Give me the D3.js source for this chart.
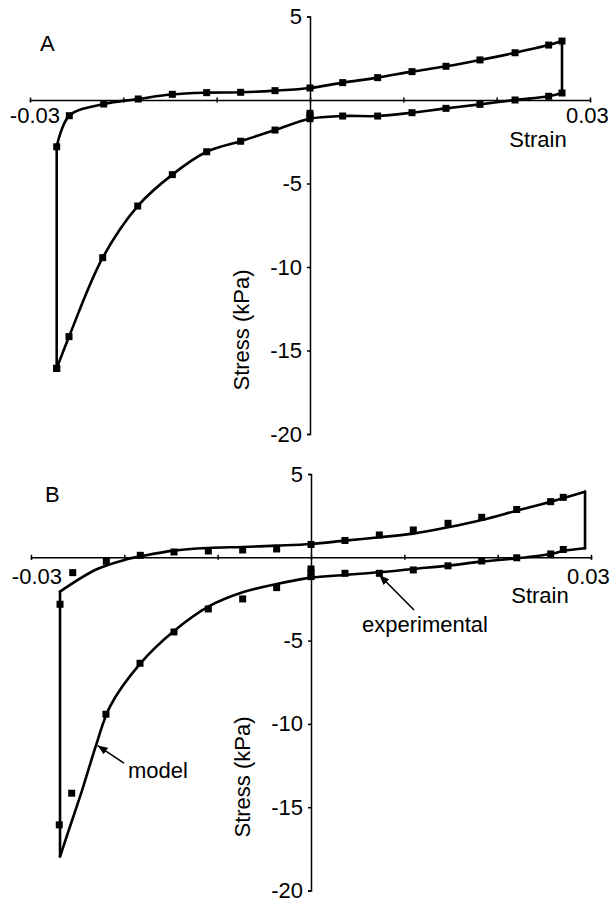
<!DOCTYPE html>
<html>
<head>
<meta charset="utf-8">
<script src="https://cdn.jsdelivr.net/npm/d3@7"></script>
<style>
  body { margin: 0; background: #fff; }
  svg text { font-family: "Liberation Sans", Arial, Helvetica, sans-serif; font-size: 22px; fill: #000; }
</style>
</head>
<body>
<div id="chart"></div>
<script>
// Panel A: measured stress-strain loop (markers joined by a line)
var strainA = [-0.02714, -0.02714, -0.02579, -0.0221, -0.0184, -0.01475, -0.01107, -0.00743, -0.00375, 0,
               0.0035, 0.00725, 0.01093, 0.01457, 0.01821, 0.02197, 0.02557, 0.027,
               0.027, 0.02557, 0.02197, 0.01821, 0.01457, 0.01093, 0.00725, 0.0035, 0,
               -0.00375, -0.00743, -0.01107, -0.01475, -0.01846, -0.02221, -0.02582, -0.02714];
var stressA = [-16.07, -2.80, -0.94, -0.24, 0.06, 0.34, 0.44, 0.46, 0.56, 0.72,
               1.04, 1.34, 1.70, 2.02, 2.40, 2.83, 3.29, 3.53,
               0.42, 0.22, 0.0, -0.26, -0.50, -0.76, -0.96, -0.96, -1.12,
               -1.80, -2.47, -3.10, -4.47, -6.35, -9.44, -14.17, -16.07];
// Panel A: extra readings stacked at zero strain (markers only)
var strainA0 = [0, 0];
var stressA0 = [-0.80, -0.95];

// Panel B: experimental points
var strainExp = [-0.02689, -0.02553, -0.02193, -0.01829, -0.01468, -0.011, -0.00732, -0.00368, 0,
                 0.00364, 0.00732, 0.01096, 0.01468, 0.01829, 0.02204, 0.02568, 0.02703,
                 0.02703, 0.02568, 0.02204, 0.01829, 0.01468, 0.01096, 0.00732, 0.00364, 0, 0, 0,
                 -0.00368, -0.00732, -0.011, -0.01468, -0.01832, -0.02197, -0.02564, -0.02697];
var stressExp = [-2.82, -0.92, -0.24, 0.12, 0.32, 0.38, 0.44, 0.50, 0.77,
                 1.01, 1.34, 1.64, 2.04, 2.40, 2.87, 3.34, 3.60,
                 0.47, 0.20, -0.03, -0.22, -0.51, -0.76, -0.96, -0.96, -0.70, -0.95, -1.16,
                 -1.82, -2.50, -3.10, -4.48, -6.36, -9.42, -14.16, -16.06];

// Panel B: model curve
var strainModel = [-0.02689, -0.02689, -0.02296, -0.01975, -0.01832, -0.01475, -0.011, -0.00732, -0.00368, 0,
                   0.00364, 0.00732, 0.01096, 0.01468, 0.01829, 0.02204, 0.02568, 0.02936,
                   0.02936, 0.02703, 0.02568, 0.02204, 0.01829, 0.01468, 0.01096, 0.00732, 0.00364, 0,
                   -0.00368, -0.00732, -0.011, -0.01475, -0.01832, -0.02154, -0.02296, -0.0244, -0.02582, -0.02689];
var stressModel = [-17.96, -2.06, -0.72, -0.12, 0.05, 0.40, 0.56, 0.62, 0.70, 0.80,
                   1.0, 1.2, 1.42, 1.8, 2.24, 2.80, 3.34, 3.94,
                   0.54, 0.38, 0.20, -0.06, -0.26, -0.50, -0.70, -0.90, -1.06, -1.22,
                   -1.6, -2.1, -2.96, -4.46, -6.4, -8.96, -11.16, -13.76, -16.16, -17.96];

var xTicks = [-0.03, -0.02, -0.01, 0, 0.01, 0.02, 0.03];
var yTicks = [5, -5, -10, -15, -20];
var yTickLabels = ["5", "-5", "-10", "-15", "-20"];
var xEndLabels = ["-0.03", "0.03"];

var width = 612, height = 902;

var svg = d3.select("#chart").append("svg")
    .attr("width", width)
    .attr("height", height);

svg.append("defs").append("marker")
    .attr("id", "head")
    .attr("markerUnits", "userSpaceOnUse")
    .attr("viewBox", "0 0 10 8")
    .attr("markerWidth", 10)
    .attr("markerHeight", 8)
    .attr("refX", 10)
    .attr("refY", 4)
    .attr("orient", "auto")
    .append("path")
    .attr("d", "M0,0L10,4L0,8z")
    .attr("fill", "#000");

var zip = function(xs, ys){
    return xs.map(function(d, i){ return [d, ys[i]]; });
};

var drawPanel = function(cfg){
    var x = d3.scaleLinear().domain([-0.03, 0.03]).range([cfg.left, cfg.right]);
    var y = d3.scaleLinear().domain([-20, 5]).range([cfg.bottom, cfg.top]);
    var g = svg.append("g");

    // x axis through stress = 0
    var xa = g.append("g")
        .attr("transform", "translate(0," + y(0) + ")")
        .call(d3.axisBottom(x).tickValues(xTicks).tickFormat("").tickSizeOuter(0).tickSize(2));
    xa.selectAll("line").attr("y1", -2.5).attr("y2", 2.5).attr("stroke-width", 1.5);
    xa.select(".domain").attr("stroke-width", 1.5);

    // y axis through strain = 0
    var ya = g.append("g")
        .attr("transform", "translate(" + x(0) + ",0)")
        .call(d3.axisLeft(y).tickValues(yTicks)
            .tickFormat(function(d, i){ return yTickLabels[i]; })
            .tickSizeOuter(0).tickSize(3).tickPadding(5));
    ya.selectAll("line").attr("stroke-width", 1.5);
    ya.select(".domain").attr("stroke-width", 1.5);

    g.append("text")
        .attr("x", x(-0.03) + cfg.lowLabelDx)
        .attr("y", y(0) + cfg.endLabelDy)
        .attr("text-anchor", "end")
        .text(xEndLabels[0]);
    g.append("text")
        .attr("x", x(0.03) - 24)
        .attr("y", y(0) + cfg.endLabelDy)
        .text(xEndLabels[1]);
    g.append("text")
        .attr("x", cfg.strainX)
        .attr("y", y(0) + cfg.strainDy)
        .attr("text-anchor", "middle")
        .text("Strain");
    g.append("text")
        .attr("transform", "translate(" + cfg.stressX + "," + cfg.stressY + ") rotate(-90)")
        .attr("text-anchor", "middle")
        .text("Stress (kPa)");
    g.append("text")
        .attr("x", cfg.letterX)
        .attr("y", cfg.letterY)
        .text(cfg.letter);

    return {x: x, y: y, g: g};
};

// smooth branches, straight vertical jumps (same strain twice in a row)
var loopPath = function(p, pts){
    var smooth = d3.line()
        .x(function(d){ return p.x(d[0]); })
        .y(function(d){ return p.y(d[1]); })
        .curve(d3.curveCatmullRom.alpha(0.5));
    var straight = d3.line()
        .x(function(d){ return p.x(d[0]); })
        .y(function(d){ return p.y(d[1]); });
    var runs = [[pts[0]]];
    for (var i = 1; i < pts.length; i++) {
        if (pts[i][0] === pts[i - 1][0]) {
            p.g.append("path")
                .attr("d", straight([pts[i - 1], pts[i]]))
                .attr("fill", "none").attr("stroke", "#000").attr("stroke-width", 2.6)
                .attr("stroke-linecap", "round");
            runs.push([pts[i]]);
        } else {
            runs[runs.length - 1].push(pts[i]);
        }
    }
    runs.forEach(function(r){
        if (r.length < 2) return;
        p.g.append("path")
            .attr("d", smooth(r))
            .attr("fill", "none").attr("stroke", "#000").attr("stroke-width", 2.6)
            .attr("stroke-linejoin", "round").attr("stroke-linecap", "round");
    });
};

var squares = function(p, pts){
    p.g.selectAll(null).data(pts).enter().append("rect")
        .attr("x", function(d){ return p.x(d[0]) - 3.5; })
        .attr("y", function(d){ return p.y(d[1]) - 3.5; })
        .attr("width", 7)
        .attr("height", 7)
        .attr("fill", "#000");
};

// ---- panel A
var pA = drawPanel({left: 30, right: 590, top: 16.5, bottom: 434, letter: "A", letterX: 40, letterY: 51,
    lowLabelDx: 30, endLabelDy: 23, strainX: 538, strainDy: 47, stressX: 249, stressY: 330});
var ptsA = zip(strainA, stressA);
loopPath(pA, ptsA);
squares(pA, ptsA);
squares(pA, zip(strainA0, stressA0));

// ---- panel B
var pB = drawPanel({left: 31, right: 591, top: 474, bottom: 890.5, letter: "B", letterX: 45, letterY: 502,
    lowLabelDx: 31, endLabelDy: 27, strainX: 540, strainDy: 46, stressX: 250, stressY: 777});
loopPath(pB, zip(strainModel, stressModel));
squares(pB, zip(strainExp, stressExp));

// annotations
var arrow = function(p, from, to){
    p.g.append("line")
        .attr("x1", p.x(from[0])).attr("y1", p.y(from[1]))
        .attr("x2", p.x(to[0])).attr("y2", p.y(to[1]))
        .attr("stroke", "#000")
        .attr("stroke-width", 1.6)
        .attr("marker-end", "url(#head)");
};
arrow(pB, [0.01104, -3.16], [0.00732, -1.06]);
pB.g.append("text")
    .attr("x", pB.x(0.01104) - 52)
    .attr("y", pB.y(-3.16) + 22)
    .text("experimental");
arrow(pB, [-0.02004, -12.35], [-0.02286, -11.3]);
pB.g.append("text")
    .attr("x", pB.x(-0.02004) + 4)
    .attr("y", pB.y(-12.35) + 15)
    .text("model");
</script>
</body>
</html>
